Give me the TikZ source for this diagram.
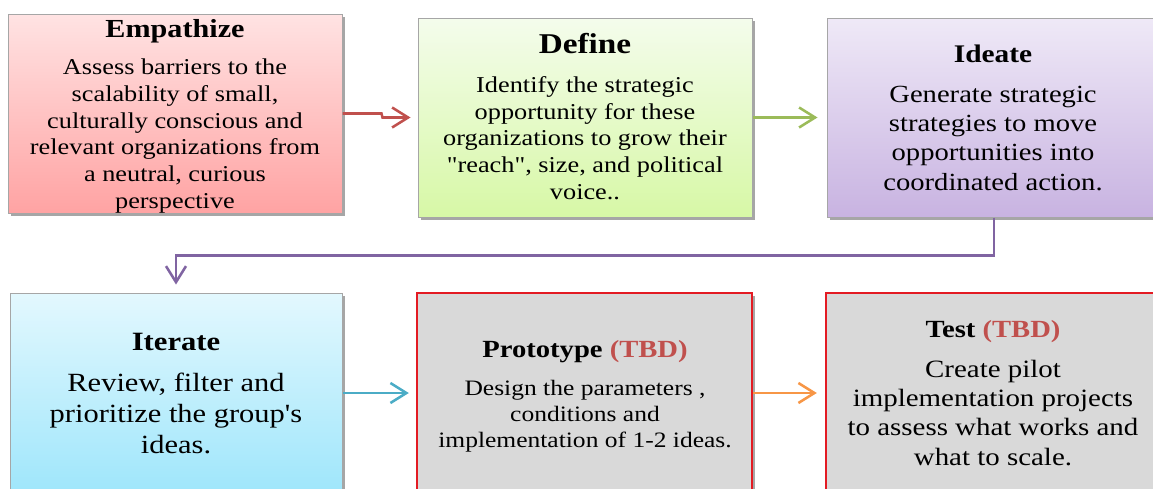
\documentclass[tikz,border=0pt]{standalone}
\usepackage{fontspec}
\defaultfontfeatures[\rmfamily]{}
\setmainfont{Liberation Serif}[FakeStretch=1.16]
\usetikzlibrary{arrows.meta,shadows}

\definecolor{arrRed}{HTML}{C0504D}
\definecolor{arrGreen}{HTML}{9BBB59}
\definecolor{arrPurple}{HTML}{8064A2}
\definecolor{arrCyan}{HTML}{4BACC6}
\definecolor{arrOrange}{HTML}{F79646}
\definecolor{tbdRed}{HTML}{C0504D}
\definecolor{boxEdge}{HTML}{A6A6A6}
\definecolor{redEdge}{HTML}{E31B23}
\definecolor{greyFill}{HTML}{D9D9D9}
\definecolor{empTop}{HTML}{FFE3E3}
\definecolor{empBot}{HTML}{FFA3A3}
\definecolor{defTop}{HTML}{F4FCEC}
\definecolor{defBot}{HTML}{D7F8A6}
\definecolor{ideTop}{HTML}{EFE9F7}
\definecolor{ideBot}{HTML}{C8B3E1}
\definecolor{itrTop}{HTML}{E3F8FE}
\definecolor{itrBot}{HTML}{9FE6FB}

\tikzset{
  stagebox/.style={rectangle, inner sep=0pt, draw=boxEdge, line width=0.75pt,
    minimum width=250.5pt, minimum height=149.25pt,
    drop shadow={shadow xshift=2pt, shadow yshift=-2pt, opacity=0.35, fill=black}},
  tbdbox/.style={stagebox, draw=redEdge, line width=1.8pt, fill=greyFill,
    minimum height=150pt},
  steptitle/.style={anchor=base, inner sep=0pt, font=\bfseries#1},
  % body texts are placed by the baseline of their last line
  stepbody/.style={anchor=base, inner sep=0pt, align=center, font=#1},
  flow/.style={line width=1.9pt, -{Straight Barb[length=12pt,width=15pt,line width=1.9pt]}},
}
\newcommand{\fs}[2]{\fontsize{#1}{#2}\selectfont}

\begin{document}
\begin{tikzpicture}[x=0.75pt,y=-0.75pt]
\useasboundingbox (0,0) rectangle (1153,489);
\clip (0,0) rectangle (1153,489);

% stage boxes
\node[stagebox, top color=empTop, bottom color=empBot] (emp) at (175,113.5) {};
\node[stagebox, top color=defTop, bottom color=defBot] (def) at (585,117.5) {};
\node[stagebox, top color=ideTop, bottom color=ideBot] (ide) at (994,117.5) {};
\node[stagebox, top color=itrTop, bottom color=itrBot, minimum width=249pt,
      minimum height=150pt] (itr) at (176,393) {};
\node[tbdbox, minimum width=251.25pt] (pro) at (584.5,393) {};
\node[tbdbox] (tst) at (993,393) {};

% texts
\node[steptitle=\fs{19.5}{22}] (empT) at (175,37) {Empathize};
\node[stepbody=\fs{17}{20}] (empB) at (175,208) {Assess barriers to the\\scalability of small,\\culturally conscious and\\relevant organizations from\\a neutral, curious\\perspective};

\node[steptitle=\fs{21.5}{24}] (defT) at (585,53) {Define};
\node[stepbody=\fs{17}{20}] (defB) at (585,199) {Identify the strategic\\opportunity for these\\organizations to grow their\\"reach", size, and political\\voice..};

\node[steptitle=\fs{19}{22}] (ideT) at (993,62) {Ideate};
\node[stepbody=\fs{18.5}{22}] (ideB) at (993,190) {Generate strategic\\strategies to move\\opportunities into\\coordinated action.};

\node[steptitle=\fs{19.8}{24}] (itrT) at (176,350) {Iterate};
\node[stepbody=\fs{19.7}{23}] (itrB) at (176,453) {Review, filter and\\prioritize the group's\\ideas.};

\node[steptitle=\fs{18.5}{22}] (proT) at (585,357) {Prototype \textcolor{tbdRed}{(TBD)}};
\node[stepbody=\fs{16.5}{19.5}] (proB) at (585,447) {Design the parameters ,\\conditions and\\implementation of 1-2 ideas.};

\node[steptitle=\fs{18.5}{20}] (tstT) at (993,337) {Test \textcolor{tbdRed}{(TBD)}};
\node[stepbody=\fs{18.7}{22}] (tstB) at (993,465) {Create pilot\\implementation projects\\to assess what works and\\what to scale.};

% connectors
\draw[flow, arrRed] (emp.east) -- ++(39,0) -- ++(1,4) -- ([xshift=-5.25pt]def.west);
\draw[flow, arrGreen] (def.east) -- ([xshift=-6.75pt]ide.west);
\draw[flow, arrPurple] (ide.south) -- ++(0,38) -| ([yshift=6pt]itr.north);
\draw[flow, arrCyan] (itr.east) -- ([xshift=-5.25pt]pro.west);
\draw[flow, arrOrange] (pro.east) -- ([xshift=-6pt]tst.west);
\end{tikzpicture}
\end{document}
